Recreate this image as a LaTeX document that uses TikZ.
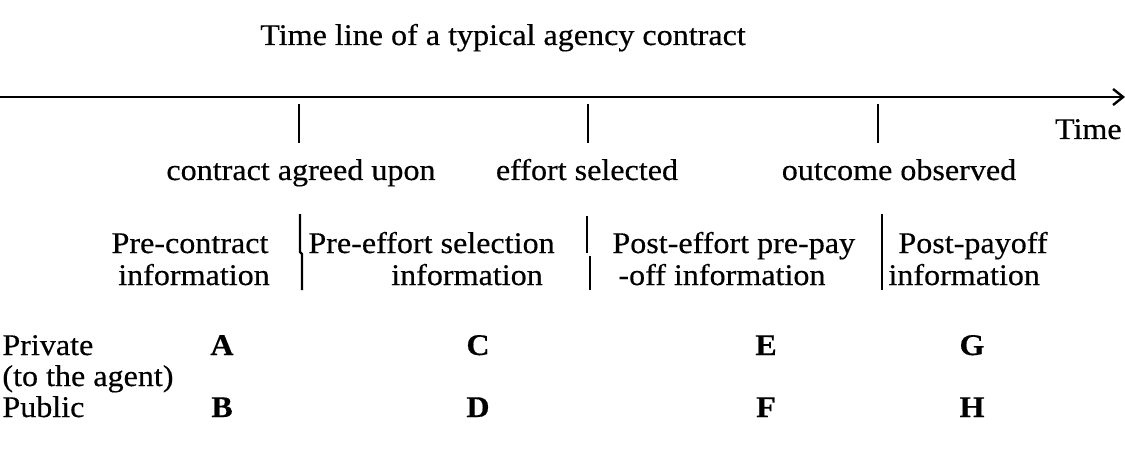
\documentclass[tikz,border=0pt]{standalone}
\usepackage{fontspec}
\setmainfont{Liberation Serif}[FakeStretch=1.07,FakeBold=0.4]
\usetikzlibrary{arrows.meta}
\begin{document}
\begin{tikzpicture}[x=0.5pt,y=-0.5pt,
  lbl/.style={inner sep=0pt, anchor=base, font=\fontsize{15}{17}\selectfont},
  lblw/.style={lbl, anchor=base west},
  letter/.style={lbl, font=\fontsize{15}{17}\selectfont\bfseries},
  axis/.style={line width=1.2pt, -{Straight Barb[length=5pt,width=8pt,line width=1.2pt]}},
  tickmark/.style={line width=1.3pt},
  sepline/.style={line width=1.1pt}]
\useasboundingbox (0,0) rectangle (1125,449);
% title
\node[lbl] (title) at (503,45) {Time line of a typical agency contract};
% time axis
\coordinate (axs) at (0,97);
\coordinate (axe) at (1125,97);
\draw[axis] (axs) -- (axe);
\node[lbl, anchor=base east] (time) at (1122,139) {Time};
% ticks
\coordinate (t1a) at (299,104); \coordinate (t1b) at (299,143);
\coordinate (t2a) at (588,104); \coordinate (t2b) at (588,143);
\coordinate (t3a) at (878,104); \coordinate (t3b) at (878,143);
\draw[tickmark] (t1a) -- (t1b);
\draw[tickmark] (t2a) -- (t2b);
\draw[tickmark] (t3a) -- (t3b);
% events
\node[lbl] (ev1) at (301,180) {contract agreed upon};
\node[lbl] (ev2) at (587,180) {effort selected};
\node[lbl] (ev3) at (899,180) {outcome observed};
% information periods
\node[lbl] (p1a) at (190,253) {Pre-contract};
\node[lbl] (p1b) at (194,285) {information};
\node[lblw] (p2a) at (308,253) {Pre-effort selection};
\node[lbl] (p2b) at (467,285) {information};
\node[lblw] (p3a) at (612,253) {Post-effort pre-pay};
\node[lblw] (p3b) at (618,285) {-off information};
\node[lblw] (p4a) at (898,253) {Post-payoff};
\node[lblw] (p4b) at (888,285) {information};
% separators
\coordinate (s1a) at (300,214); \coordinate (s1m) at (300,252);
\coordinate (s1n) at (302,254); \coordinate (s1b) at (302,290);
\draw[sepline] (s1a) -- (s1m) -- (s1n) -- (s1b);
\coordinate (s2a) at (587,216); \coordinate (s2m) at (587,253);
\coordinate (s2n) at (590,256); \coordinate (s2b) at (590,290);
\draw[sepline] (s2a) -- (s2m);
\draw[sepline] (s2n) -- (s2b);
\coordinate (s3a) at (882,214); \coordinate (s3b) at (882,290);
\draw[sepline] (s3a) -- (s3b);
% rows
\node[lblw] (priv) at (2,355) {Private};
\node[lblw] (agent) at (2,386) {(to the agent)};
\node[lblw] (pub) at (2,417) {Public};
\node[letter] (A) at (222,355) {A};
\node[letter] (C) at (478,355) {C};
\node[letter] (E) at (766,355) {E};
\node[letter] (G) at (972,355) {G};
\node[letter] (B) at (222,417) {B};
\node[letter] (D) at (478,417) {D};
\node[letter] (F) at (766,417) {F};
\node[letter] (H) at (972,417) {H};
\end{tikzpicture}
\end{document}
